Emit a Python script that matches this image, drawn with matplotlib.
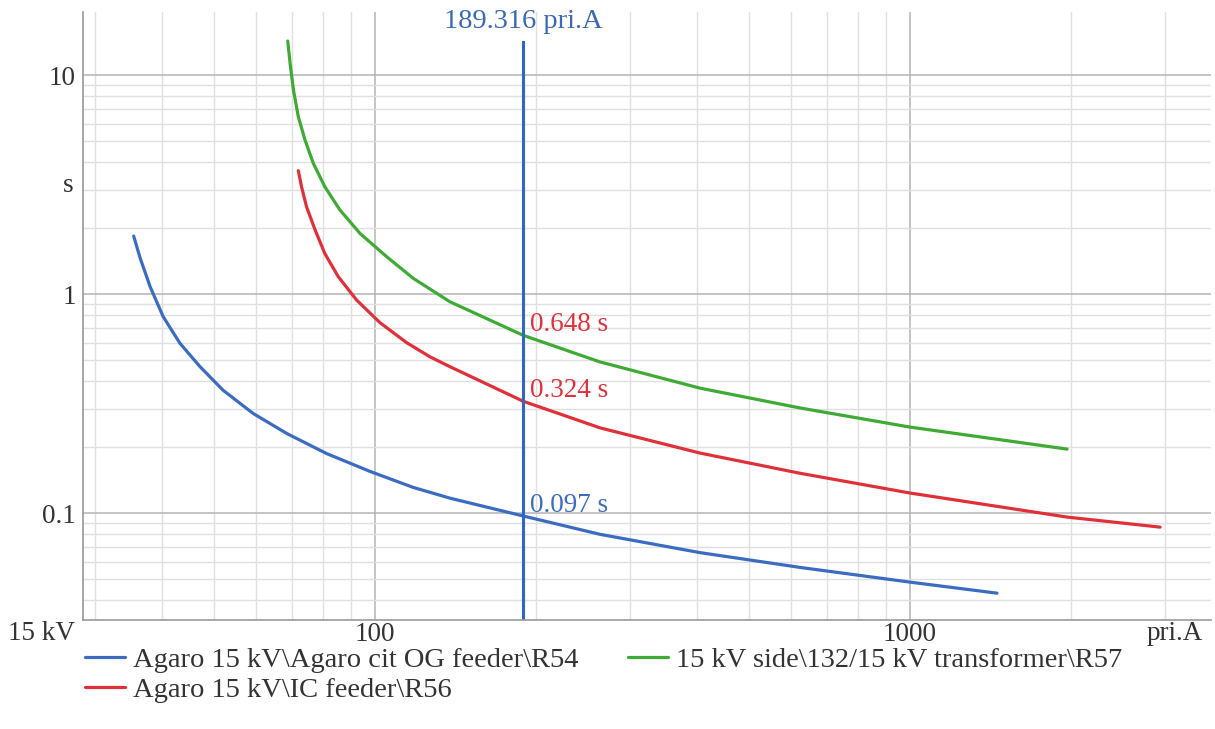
import matplotlib
matplotlib.use("Agg")
import matplotlib.pyplot as plt
from matplotlib.ticker import LogLocator, NullFormatter, FixedLocator, FixedFormatter

plt.rcParams['font.family'] = ['Liberation Serif', 'DejaVu Serif']

# current (pri.A) / time (s)
r54_i = [35.4, 36.4, 38.0, 40.2, 43.2, 47.1, 52.0, 59.2, 68.4, 81.2, 97.9, 117.9, 138.1,
         189.3, 263.4, 405, 623, 1000, 1454]
r54_t = [1.84, 1.46, 1.08, 0.788, 0.596, 0.466, 0.364, 0.285, 0.231, 0.187, 0.155, 0.131, 0.117,
         0.097, 0.080, 0.066, 0.0565, 0.0484, 0.0431]

r56_i = [71.9, 72.9, 74.5, 77.3, 80.6, 85.4, 92.4, 102.2, 114.6, 126.7, 138.1,
         189.3, 263.4, 405, 623, 1000, 1966, 2933]
r56_t = [3.66, 3.09, 2.50, 1.96, 1.53, 1.20, 0.939, 0.740, 0.600, 0.517, 0.466,
         0.324, 0.245, 0.188, 0.152, 0.1235, 0.0959, 0.0863]

r57_i = [68.7, 69.4, 70.4, 71.9, 74.0, 76.7, 80.6, 86.0, 93.8, 105.2, 117.9, 138.1,
         189.3, 263.4, 405, 623, 1000, 1966]
r57_t = [14.3, 11.3, 8.54, 6.45, 5.05, 3.95, 3.09, 2.42, 1.89, 1.48, 1.18, 0.922,
         0.648, 0.49, 0.372, 0.302, 0.247, 0.196]

labels = ['Agaro 15 kV\\Agaro cit OG feeder\\R54',
          'Agaro 15 kV\\IC feeder\\R56',
          '15 kV side\\132/15 kV transformer\\R57']

marker_i = 189.316
marker_t = [0.097, 0.324, 0.648]
marker_txt = ['0.097 s', '0.324 s', '0.648 s']

blue = '#3b6cc2'
red = '#e0303a'
green = '#3fab35'
txt_c = '#333333'

fig = plt.figure(figsize=(12.15, 7.29), dpi=100)
ax = fig.add_axes([0.0683, 0.1495, 0.9284, 0.834])
ax.set_xscale('log')
ax.set_yscale('log')
ax.set_xlim(28.46, 3652)
ax.set_ylim(0.0325, 19.4)

ax.xaxis.set_major_locator(FixedLocator([100, 1000]))
ax.xaxis.set_major_formatter(FixedFormatter(['100', '1000']))
ax.xaxis.set_minor_locator(LogLocator(base=10, subs=range(2, 10)))
ax.xaxis.set_minor_formatter(NullFormatter())
ax.yaxis.set_major_locator(FixedLocator([0.1, 1, 10]))
ax.yaxis.set_major_formatter(FixedFormatter(['0.1', '1', '10']))
ax.yaxis.set_minor_locator(LogLocator(base=10, subs=range(2, 10)))
ax.yaxis.set_minor_formatter(NullFormatter())

ax.grid(which='major', color='#b4b4b4', linewidth=1.1)
ax.grid(which='minor', color='#e0e0e0', linewidth=1.0)
ax.set_axisbelow(True)
ax.tick_params(which='both', length=0, labelsize=19.5, colors=txt_c)
ax.tick_params(axis='x', pad=1.5)
ax.tick_params(axis='y', pad=5)
for s in ['top', 'right']:
    ax.spines[s].set_visible(False)
for s in ['left', 'bottom']:
    ax.spines[s].set_color('#999999')
    ax.spines[s].set_linewidth(1.2)

kw = dict(lw=2.3, solid_joinstyle='round', solid_capstyle='round')
l1, = ax.plot(r54_i, r54_t, color=blue, label=labels[0], **kw)
l2, = ax.plot(r56_i, r56_t, color=red, label=labels[1], **kw)
l3, = ax.plot(r57_i, r57_t, color=green, label=labels[2], **kw)

ax.axvline(marker_i, ymin=0, ymax=0.95, color='#2f66c8', lw=2.2)
ax.text(marker_i, 0.984, '189.316 pri.A', transform=ax.get_xaxis_transform(),
        ha='center', va='center', fontsize=20.5, color='#3a6ab4')

for t, txt, c in zip(marker_t, marker_txt, [blue, red, red]):
    ax.annotate(txt, (marker_i, t), xytext=(4.5, 3), textcoords='offset points',
                ha='left', va='baseline', fontsize=19.5, color=c)

fig.text(73 / 1215, 1 - 186 / 729, 's', ha='right', va='center', fontsize=19.5, color=txt_c)
fig.text(8 / 1215, 1 - 634 / 729, '15 kV', ha='left', va='center', fontsize=19.5, color=txt_c)
fig.text(1203 / 1215, 1 - 634 / 729, 'pri.A', ha='right', va='center', fontsize=19.5, color=txt_c)

fig.legend(handles=[l1, l2, l3], loc='upper left', bbox_to_anchor=(85 / 1215, 1 - 647 / 729),
           ncol=2, frameon=False, fontsize=20.5, handlelength=1.4, handletextpad=0.28,
           columnspacing=1.75, labelspacing=0.15, borderaxespad=0, borderpad=0,
           labelcolor=txt_c)

fig.savefig('out.png', dpi=100)
